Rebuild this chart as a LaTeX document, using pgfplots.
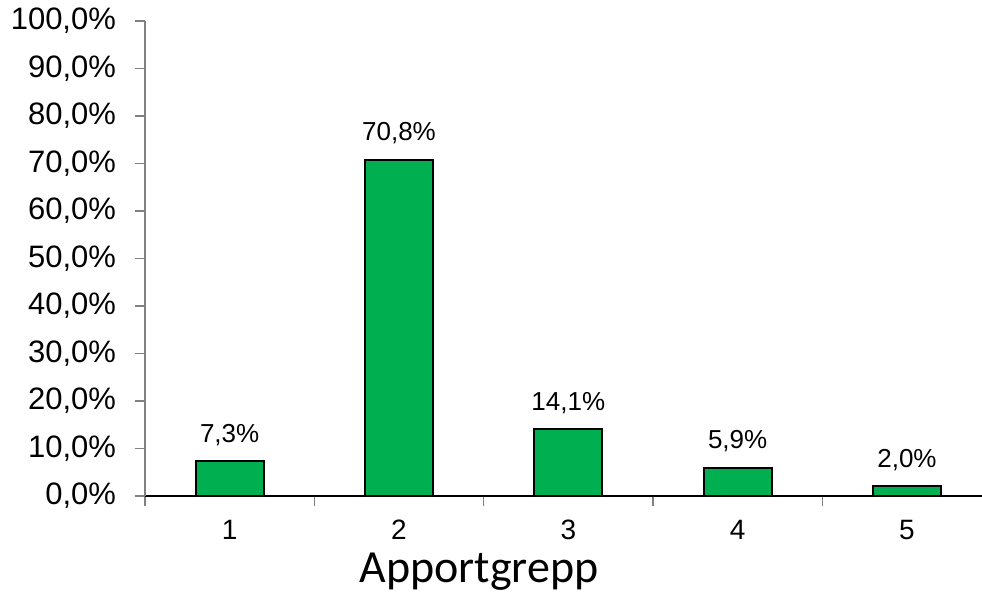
\documentclass[border=0pt]{standalone}
\usepackage{pgfplots}
\pgfplotsset{compat=1.18}
\usepackage{fontspec}
\setmainfont{Liberation Sans}
\newfontfamily\calibri{Carlito}
\definecolor{bargreen}{RGB}{0,176,80}
\definecolor{axgray}{RGB}{128,128,128}
\begin{document}
\begin{tikzpicture}
\useasboundingbox (-72.5pt,-49.5pt) rectangle (418.5pt,248pt);
\begin{axis}[
    at={(0,0)}, anchor=south west,
    scale only axis, width=418.5pt, height=237.5pt,
    ybar, bar width=34pt,
    xmin=-0.5, xmax=4.443,
    ymin=0, ymax=100,
    axis x line=bottom, axis y line=left,
    x axis line style={black, -, line width=0.8pt},
    y axis line style={axgray, -, line width=0.8pt},
    tick align=outside, major tick length=5pt,
    every tick/.style={axgray, line width=0.8pt},
    ytick={0,10,...,100},
    yticklabel={\pgfmathprintnumber[fixed,zerofill,precision=1,use comma]{\tick}\%},
    yticklabel style={font=\fontsize{15.5}{18}\selectfont, xshift=-6pt},
    xtick={-0.5,0.5,1.5,2.5,3.5}, xticklabels={},
    extra x ticks={0,1,2,3,4},
    extra x tick labels={1,2,3,4,5},
    extra x tick style={major tick length=0pt, tick label style={font=\fontsize{14}{17}\selectfont, inner sep=0pt, yshift=-12pt}},
    /pgf/number format/assume math mode=true,
    xlabel={\calibri Apportgrepp},
    xlabel style={font=\fontsize{23}{27}\selectfont, inner sep=0pt, at={(axis description cs:0.399,0)}, anchor=base, yshift=-43.5pt},
    nodes near coords={\pgfmathprintnumber[fixed,zerofill,precision=1,use comma]{\pgfplotspointmeta}\%},
    nodes near coords style={font=\fontsize{13}{15}\selectfont, black, yshift=4pt},
    clip=false,
]
\addplot[fill=bargreen, draw=black, line width=1pt] coordinates {
    (0, 7.3) (1, 70.8) (2, 14.1) (3, 5.9) (4, 2.0)
};
\end{axis}
\end{tikzpicture}
\end{document}
